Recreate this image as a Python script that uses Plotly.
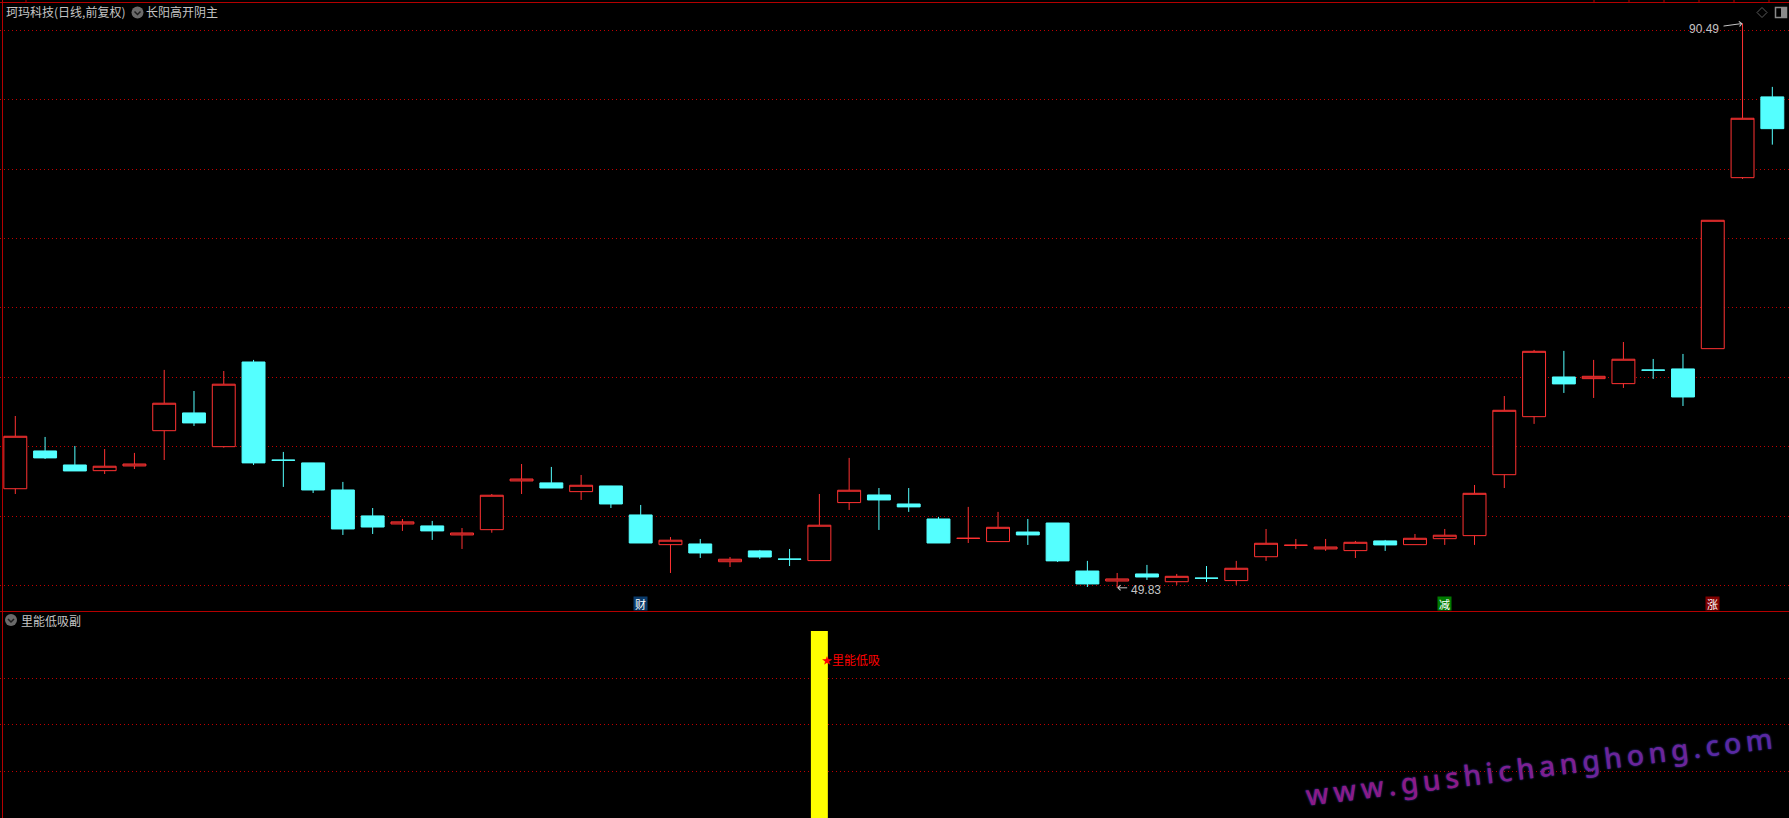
"""
Daily candlestick chart with a lower signal panel, dark trading terminal style.
"""

import plotly.graph_objects as go
from plotly.subplots import make_subplots

WIDTH = 1789
HEIGHT = 818

opens = [
    56.97, 59.69, 58.68, 58.27, 58.61, 61.15, 62.43, 60.00, 66.10, 59.03,
    58.83, 56.88, 55.01, 54.43, 54.29, 53.64, 54.02, 57.53, 57.39, 56.76,
    57.17, 55.08, 52.94, 52.99, 51.71, 52.49, 51.90, 51.79, 55.97, 56.52,
    55.87, 54.79, 53.39, 53.16, 53.85, 54.50, 51.04, 50.32, 50.83, 50.27,
    50.53, 50.35, 52.07, 52.89, 52.63, 52.51, 53.21, 52.94, 53.37, 53.59,
    57.98, 62.16, 65.02, 64.90, 64.54, 65.52, 65.60, 67.06, 79.38, 85.20,
]
highs = [
    62.21, 60.70, 60.05, 59.83, 59.55, 65.53, 64.01, 65.45, 66.25, 59.62,
    58.83, 57.46, 55.58, 54.79, 54.65, 54.14, 56.59, 58.75, 58.54, 57.96,
    57.17, 55.80, 53.49, 53.35, 52.05, 52.56, 52.63, 56.59, 59.19, 57.02,
    57.02, 54.94, 55.66, 55.30, 54.79, 54.50, 51.77, 50.90, 51.48, 50.83,
    51.40, 51.77, 54.07, 53.35, 53.35, 53.21, 53.28, 53.71, 54.07, 57.24,
    63.65, 66.97, 66.90, 66.25, 67.54, 66.32, 66.68, 76.31, 90.49, 85.92,
]
lows = [
    56.59, 59.11, 58.25, 58.03, 58.39, 59.04, 61.49, 59.93, 58.68, 57.10,
    56.66, 53.64, 53.71, 53.93, 53.28, 52.63, 53.80, 56.59, 57.02, 56.16,
    55.58, 53.06, 50.90, 51.98, 51.33, 51.91, 51.40, 51.79, 55.44, 54.00,
    55.30, 53.06, 53.06, 53.16, 52.92, 51.69, 49.89, 49.83, 50.40, 50.04,
    50.25, 50.04, 51.77, 52.63, 52.49, 51.98, 52.49, 52.94, 52.92, 52.92,
    57.02, 61.64, 63.87, 63.51, 64.23, 64.88, 62.93, 67.06, 79.29, 81.76,
]
closes = [
    60.75, 59.19, 58.25, 58.59, 58.75, 63.13, 61.71, 64.50, 58.83, 59.02,
    56.88, 54.07, 54.21, 54.58, 53.93, 53.78, 56.50, 57.67, 57.02, 57.22,
    55.87, 53.06, 53.26, 52.34, 51.89, 52.05, 51.89, 54.34, 56.86, 56.16,
    55.66, 53.06, 53.40, 54.19, 53.64, 51.77, 50.11, 50.47, 50.61, 50.66,
    50.52, 51.24, 53.04, 52.90, 52.77, 53.11, 52.92, 53.40, 53.62, 56.64,
    62.62, 66.87, 64.52, 65.07, 66.30, 65.51, 63.58, 76.31, 83.66, 82.91,
]
candle_index = list(range(len(opens)))

price_ticks = [50, 55, 60, 65, 70, 75, 80, 85, 90]
signal_ticks = [1, 2, 3]
signal_index = [27]
signal_values = [4.02]

high_label = 90.49
high_label_index = 58
low_label = 49.83
low_label_index = 37

# marker badges above the panel divider: (candle, text, background)
badges = [(21, '财', '#0a3a6a'), (48, '减', '#007a00'), (57, '涨', '#800000')]

watermark_parts = [
    ('www.gus', '#8c1a86'),
    ('hichan', '#7f1f90'),
    ('ghong', '#6c2499'),
    ('.com', '#5a28a2'),
]

RED = '#ff3232'
CYAN = '#54ffff'
GRID = '#c00000'
FRAME = '#b40000'
TEXT = '#c4c4c4'
CJK = 'Noto Sans CJK SC'


def px(x):
    return x / WIDTH


def py(y):
    return 1 - y / HEIGHT


def down_icon(fig, cx, cy):
    """Round grey collapse button in a panel header."""
    fig.add_shape(type='circle', xref='paper', yref='paper', x0=px(cx - 6), x1=px(cx + 6),
                  y0=py(cy + 6), y1=py(cy - 6), fillcolor='#6a6a6a', line_width=0)
    fig.add_shape(type='path', xref='paper', yref='paper',
                  path=f'M {px(cx - 3)} {py(cy - 1)} L {px(cx)} {py(cy + 2)} L {px(cx + 3)} {py(cy - 1)}',
                  line=dict(color='#1e1e1e', width=1.5))


def header(fig, x, y, text):
    fig.add_annotation(xref='paper', yref='paper', x=px(x), y=py(y), text=text, showarrow=False,
                       xanchor='left', yanchor='middle', borderpad=0,
                       font=dict(family=CJK, size=12, color=TEXT))


fig = make_subplots(rows=2, cols=1, shared_xaxes=True, vertical_spacing=0, row_heights=[611, 207])

fig.add_trace(go.Candlestick(
    x=candle_index, open=opens, high=highs, low=lows, close=closes,
    increasing=dict(line=dict(color=RED, width=1), fillcolor='#000000'),
    decreasing=dict(line=dict(color=CYAN, width=1), fillcolor=CYAN),
    whiskerwidth=0,
), row=1, col=1)

fig.add_trace(go.Bar(x=signal_index, y=signal_values, width=0.57, marker=dict(color='#ffff00', line_width=0)),
              row=2, col=1)

grid = dict(showgrid=True, gridcolor=GRID, gridwidth=1, griddash='1px,3px', showticklabels=False,
            ticks='', zeroline=False, showline=False, fixedrange=True)
fig.update_yaxes(tickvals=price_ticks, range=[48.16, 92.18], row=1, col=1, **grid)
fig.update_yaxes(tickvals=signal_ticks, range=[0, 4.45], row=2, col=1, **grid)
fig.update_xaxes(range=[-0.514, 59.56], showgrid=False, showticklabels=False, ticks='', zeroline=False,
                 showline=False, rangeslider_visible=False)

# frame lines
fig.add_shape(type='line', xref='paper', yref='paper', x0=px(2.5), x1=px(2.5), y0=0, y1=1,
              line=dict(color=FRAME, width=1))
fig.add_shape(type='line', xref='paper', yref='paper', x0=0, x1=1, y0=py(2.5), y1=py(2.5),
              line=dict(color=FRAME, width=1))
fig.add_shape(type='line', xref='paper', yref='paper', x0=0, x1=1, y0=py(611.5), y1=py(611.5),
              line=dict(color=FRAME, width=1))
for tick_x in [26, 1594, 1629, 1664, 1699, 1734, 1769]:
    fig.add_shape(type='line', xref='paper', yref='paper', x0=px(tick_x), x1=px(tick_x), y0=py(0), y1=py(2),
                  line=dict(color=FRAME, width=1))

header(fig, 5, 12, '珂玛科技(日线,前复权)')
down_icon(fig, 137.5, 12.5)
header(fig, 145, 12, '长阳高开阴主')
down_icon(fig, 11, 620)
header(fig, 19.5, 620, '里能低吸副')

# toolbar icons, top right
fig.add_shape(type='path', xref='paper', yref='paper',
              path=f'M {px(1757)} {py(12.5)} L {px(1762)} {py(7.5)} L {px(1767)} {py(12.5)} L {px(1762)} {py(17.5)} Z',
              line=dict(color='#5a5a5a', width=1))
fig.add_shape(type='rect', xref='paper', yref='paper', x0=px(1775.5), x1=px(1786.5), y0=py(17.5), y1=py(7.5),
              line=dict(color='#8a8a8a', width=1.5))
fig.add_shape(type='rect', xref='paper', yref='paper', x0=px(1781), x1=px(1786), y0=py(17), y1=py(8),
              fillcolor='#8a8a8a', line_width=0)

# high and low price labels with their arrows
fig.add_annotation(x=high_label_index, y=high_label, xref='x', yref='y', ax=-22, ay=3, showarrow=True,
                   arrowhead=4, arrowsize=1, arrowwidth=1, arrowcolor=TEXT)
fig.add_annotation(x=high_label_index, y=high_label, xref='x', yref='y', text=f'{high_label:.2f}', showarrow=False,
                   xanchor='right', yanchor='middle', xshift=-23, yshift=-6, borderpad=0,
                   font=dict(family='Liberation Sans', size=12, color=TEXT))
fig.add_annotation(x=low_label_index, y=low_label, xref='x', yref='y', ax=13, ay=0, showarrow=True,
                   arrowhead=4, arrowsize=1, arrowwidth=1, arrowcolor=TEXT)
fig.add_annotation(x=low_label_index, y=low_label, xref='x', yref='y', text=f'{low_label:.2f}', showarrow=False,
                   xanchor='left', yanchor='middle', xshift=13, yshift=-2, borderpad=0,
                   font=dict(family='Liberation Sans', size=12, color=TEXT))

for idx, char, colour in badges:
    fig.add_annotation(x=idx, y=py(603.5), xref='x', yref='paper', text=char, showarrow=False,
                       bgcolor=colour, borderpad=0, width=13, height=13, valign='middle', yanchor='middle',
                       font=dict(family=CJK, size=11, color='#ffffff'))

# signal label beside the yellow bar
fig.add_annotation(x=27.25, y=3.4, xref='x', yref='y2', text='★', showarrow=False,
                   xanchor='center', yanchor='middle', borderpad=0,
                   font=dict(family=CJK, size=10, color='#ff0000'))
fig.add_annotation(x=27.39, y=3.4, xref='x', yref='y2', text='里能低吸', showarrow=False,
                   xanchor='left', yanchor='middle', borderpad=0,
                   font=dict(family=CJK, size=12, color='#ff0000'))

watermark = ''.join(
    f'<span style="color:{colour}">{chr(0x2009).join(part)}{chr(0x2009)}</span>' for part, colour in watermark_parts
)
fig.add_annotation(xref='paper', yref='paper', x=px(1541), y=py(766), text=watermark, showarrow=False,
                   textangle=-7, xanchor='center', yanchor='middle',
                   font=dict(family='Noto Sans', size=28.4, weight=500, shadow='0 0 2px #3a3ab4'))

fig.update_layout(
    width=WIDTH,
    height=HEIGHT,
    margin=dict(l=0, r=0, t=0, b=0),
    paper_bgcolor='#000000',
    plot_bgcolor='#000000',
    showlegend=False,
    boxgap=0.23,
    boxgroupgap=0,
    hovermode=False,
)

fig.write_html("out.html", config={'displayModeBar': False},
               post_script="document.body.style.margin='0';document.body.style.background='#000';")
